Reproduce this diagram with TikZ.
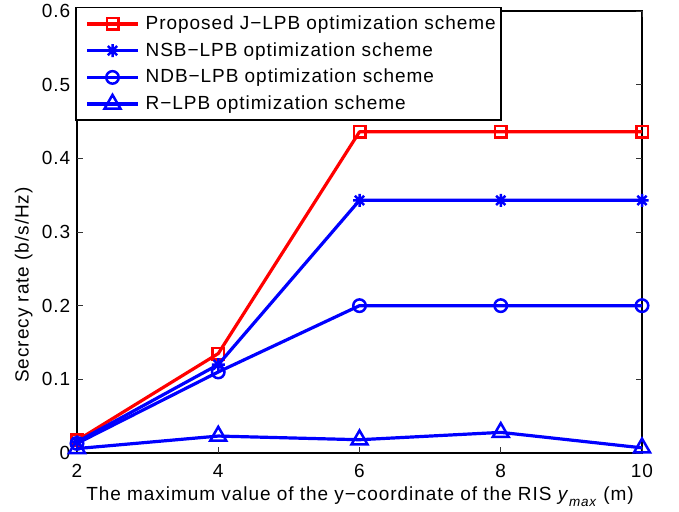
\documentclass[tikz,border=0pt]{standalone}
\usepackage{fontspec}
\setmainfont{Liberation Sans}[LetterSpace=5]
\usetikzlibrary{shapes.geometric}
\tikzset{
  lbl/.style={font=\fontsize{19}{22}\selectfont, inner sep=0pt},
  axisline/.style={line width=1.1pt, black},
  tickline/.style={line width=0.9pt, black!80},
  jline/.style={red, line width=3.2pt, line join=round},
  bline/.style={blue, line width=3.2pt, line join=round},
  sqmark/.style={rectangle, draw=red, line width=2.5pt, minimum size=11.5pt, inner sep=0pt},
  cmark/.style={circle, draw=blue, line width=2.5pt, minimum size=12.5pt, inner sep=0pt},
  tmark/.style={regular polygon, regular polygon sides=3, draw=blue, line width=2.5pt, minimum size=18.5pt, inner sep=0pt},
  astmark/.pic={\draw[blue, line width=2.5pt] (-6.5pt,0)--(6.5pt,0) (0,-6.5pt)--(0,6.5pt)
      (-4.6pt,-4.6pt)--(4.6pt,4.6pt) (-4.6pt,4.6pt)--(4.6pt,-4.6pt);},
}
\begin{document}
\begin{tikzpicture}[x=1pt,y=1pt]
% canvas
\fill[white] (0,0) rectangle (679,511);
\useasboundingbox (0,0) rectangle (679,511);

% axes box
\coordinate (ll) at (77,58);
\coordinate (ur) at (642,500);
\draw[axisline] (ll) rectangle (ur);

% ticks and tick labels
\foreach \v/\t in {0/0,0.1/0.1,0.2/0.2,0.3/0.3,0.4/0.4,0.5/0.5,0.6/0.6}{
  \pgfmathsetmacro{\yy}{58+\v*736.67}
  \draw[tickline] (77,\yy) -- (83,\yy);
  \draw[tickline] (642,\yy) -- (636,\yy);
  \node[lbl, anchor=east] (ytick\t) at (70.5,\yy) {\t};
}
\foreach \v in {2,4,6,8,10}{
  \pgfmathsetmacro{\xx}{-64.25+\v*70.625}
  \draw[tickline] (\xx,58) -- (\xx,64);
  \draw[tickline] (\xx,500) -- (\xx,494);
  \node[lbl, anchor=base] (xtick\v) at (\xx,34) {\v};
}

% axis titles
\node[lbl, anchor=base] (xtitle) at (360,10.5)
  {The maximum value of the y−coordinate of the RIS \textit{y}\raisebox{-0.55ex}{\fontsize{13.5}{15}\selectfont\textit{max}} (m)};
\node[lbl, anchor=base, rotate=90] (ytitle) at (28.5,226) {Secrecy rate (b/s/Hz)};

% data curves
\begin{scope}[xshift=-64.25pt, yshift=58pt, x=70.625pt, y=736.67pt]
  \coordinate (j2) at (2,0.017);  \coordinate (j4) at (4,0.135);
  \coordinate (j6) at (6,0.436);  \coordinate (j8) at (8,0.436);
  \coordinate (j10) at (10,0.436);
  \coordinate (n2) at (2,0.015);  \coordinate (n4) at (4,0.120);
  \coordinate (n6) at (6,0.343);  \coordinate (n8) at (8,0.343);
  \coordinate (n10) at (10,0.343);
  \coordinate (d2) at (2,0.013);  \coordinate (d4) at (4,0.110);
  \coordinate (d6) at (6,0.200);  \coordinate (d8) at (8,0.200);
  \coordinate (d10) at (10,0.200);
  \coordinate (r2) at (2,0.006);  \coordinate (r4) at (4,0.023);
  \coordinate (r6) at (6,0.018);  \coordinate (r8) at (8,0.028);
  \coordinate (r10) at (10,0.007);

  % proposed J-LPB
  \draw[jline] (j2) -- (j4) -- (j6) -- (j8) -- (j10);
  \foreach \p in {j2,j4,j6,j8,j10} \node[sqmark] (m\p) at (\p) {};
  % NSB-LPB
  \draw[bline] (n2) -- (n4) -- (n6) -- (n8) -- (n10);
  \foreach \p in {n2,n4,n6,n8,n10} \pic at (\p) {astmark};
  % NDB-LPB
  \draw[bline] (d2) -- (d4) -- (d6) -- (d8) -- (d10);
  \foreach \p in {d2,d4,d6,d8,d10} \node[cmark] (m\p) at (\p) {};
  % R-LPB
  \draw[bline] (r2) -- (r4) -- (r6) -- (r8) -- (r10);
  \foreach \p in {r2,r4,r6,r8,r10} \node[tmark] (m\p) at (\p) {};
\end{scope}

% legend
\draw[line width=1.1pt, fill=white] (76,391) rectangle (501,503.7);
\coordinate (la1) at (87,487);   \coordinate (lb1) at (138,487);
\coordinate (la2) at (87,460.3); \coordinate (lb2) at (138,460.3);
\coordinate (la3) at (87,433.6); \coordinate (lb3) at (138,433.6);
\coordinate (la4) at (87,406.9); \coordinate (lb4) at (138,406.9);
\coordinate (lm1) at (112.5,487);
\coordinate (lm2) at (112.5,460.3);
\coordinate (lm3) at (112.5,433.6);
\coordinate (lm4) at (112.5,406.9);

\draw[jline] (la1) -- (lb1);
\node[sqmark] (legm1) at (lm1) {};
\node[lbl, anchor=base west] (legt1) at (145.5,481.5) {Proposed J−LPB optimization scheme};

\draw[bline] (la2) -- (lb2);
\pic at (lm2) {astmark};
\node[lbl, anchor=base west] (legt2) at (145.5,454.8) {NSB−LPB optimization scheme};

\draw[bline] (la3) -- (lb3);
\node[cmark] (legm3) at (lm3) {};
\node[lbl, anchor=base west] (legt3) at (145.5,428.1) {NDB−LPB optimization scheme};

\draw[bline] (la4) -- (lb4);
\node[tmark] (legm4) at (lm4) {};
\node[lbl, anchor=base west] (legt4) at (145.5,401.4) {R−LPB optimization scheme};
\end{tikzpicture}
\end{document}
